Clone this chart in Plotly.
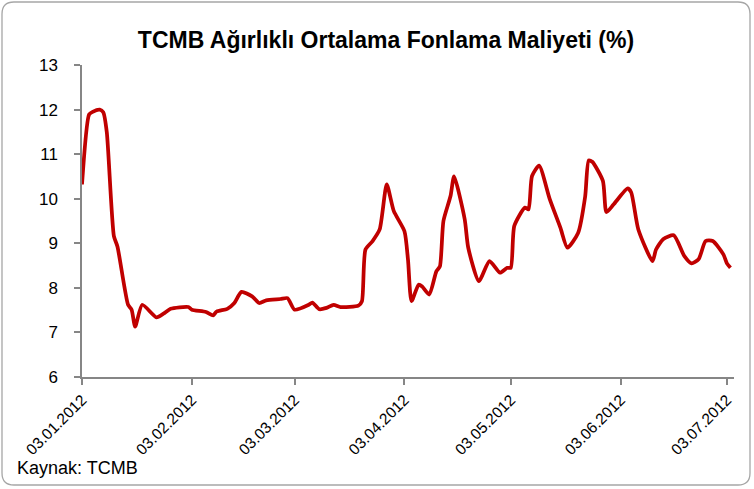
import plotly.graph_objects as go

# ---- data ----
dates = [
    "2012-01-03", "2012-01-05", "2012-01-06", "2012-01-08", "2012-01-09", "2012-01-10",
    "2012-01-12", "2012-01-13", "2012-01-16", "2012-01-17", "2012-01-18", "2012-01-20",
    "2012-01-24", "2012-01-26", "2012-01-28", "2012-02-02", "2012-02-03", "2012-02-07",
    "2012-02-09", "2012-02-10", "2012-02-13", "2012-02-15", "2012-02-17", "2012-02-20",
    "2012-02-22", "2012-02-24", "2012-02-28", "2012-03-01", "2012-03-03", "2012-03-07",
    "2012-03-08", "2012-03-10", "2012-03-12", "2012-03-14", "2012-03-16", "2012-03-21",
    "2012-03-22", "2012-03-23", "2012-03-25", "2012-03-27", "2012-03-29", "2012-03-31",
    "2012-04-03", "2012-04-04", "2012-04-05", "2012-04-07", "2012-04-08", "2012-04-10",
    "2012-04-12", "2012-04-13", "2012-04-14", "2012-04-16", "2012-04-17", "2012-04-20",
    "2012-04-21", "2012-04-24", "2012-04-27", "2012-04-30", "2012-05-02", "2012-05-03",
    "2012-05-04", "2012-05-07", "2012-05-08", "2012-05-09", "2012-05-11", "2012-05-14",
    "2012-05-17", "2012-05-19", "2012-05-22", "2012-05-24", "2012-05-25", "2012-05-26",
    "2012-05-29", "2012-05-30", "2012-06-01", "2012-06-05", "2012-06-06", "2012-06-08",
    "2012-06-12", "2012-06-13", "2012-06-15", "2012-06-18", "2012-06-21", "2012-06-23",
    "2012-06-25", "2012-06-27", "2012-06-29", "2012-07-02", "2012-07-03", "2012-07-04",
]
values = [
    10.32, 11.89, 11.95, 12.00, 11.94, 11.49,
    9.16, 8.93, 7.62, 7.51, 7.13, 7.62,
    7.34, 7.42, 7.53, 7.57, 7.51, 7.46,
    7.38, 7.47, 7.53, 7.66, 7.91, 7.81,
    7.66, 7.72, 7.75, 7.77, 7.51, 7.62,
    7.67, 7.52, 7.55, 7.62, 7.57, 7.60,
    7.70, 8.86, 9.05, 9.31, 10.32, 9.72,
    9.27, 8.63, 7.70, 8.07, 8.03, 7.85,
    8.37, 8.48, 9.50, 10.06, 10.50, 9.54,
    8.90, 8.15, 8.60, 8.34, 8.45, 8.45,
    9.39, 9.80, 9.76, 10.51, 10.74, 9.99,
    9.35, 8.90, 9.23, 10.05, 10.86, 10.83,
    10.40, 9.70, 9.87, 10.23, 10.14, 9.31,
    8.60, 8.86, 9.09, 9.18, 8.71, 8.55,
    8.64, 9.05, 9.05, 8.75, 8.55, 8.45,
]
tick_dates = ["2012-01-03", "2012-02-03", "2012-03-03", "2012-04-03",
              "2012-05-03", "2012-06-03", "2012-07-03"]
tick_labels = ["03.01.2012", "03.02.2012", "03.03.2012", "03.04.2012",
               "03.05.2012", "03.06.2012", "03.07.2012"]
y_ticks = [6, 7, 8, 9, 10, 11, 12, 13]

title_text = "TCMB Ağırlıklı Ortalama Fonlama Maliyeti (%)"
source_text = "Kaynak: TCMB"

# ---- layout geometry (pixels) ----
W, H = 754, 489
L, R, T, B = 82, 734, 65, 377   # plot area edges in pixels

def px_x(px):
    return (px - L) / (R - L)

def px_y(py):
    return (B - py) / (B - T)

FONT = "Liberation Sans, Arial, sans-serif"
AXIS_COLOR = "#868686"

fig = go.Figure()
fig.add_trace(go.Scatter(
    x=dates, y=values, mode="lines",
    line=dict(color="#C00000", width=3.75, shape="spline", smoothing=0.6),
    hoverinfo="skip", showlegend=False,
))

# rounded border around the whole chart
x0, x1, y0, y1, rr = 2, 750, 2, 485, 12
path = (
    f"M {px_x(x0 + rr)} {px_y(y0)} L {px_x(x1 - rr)} {px_y(y0)} "
    f"Q {px_x(x1)} {px_y(y0)} {px_x(x1)} {px_y(y0 + rr)} "
    f"L {px_x(x1)} {px_y(y1 - rr)} "
    f"Q {px_x(x1)} {px_y(y1)} {px_x(x1 - rr)} {px_y(y1)} "
    f"L {px_x(x0 + rr)} {px_y(y1)} "
    f"Q {px_x(x0)} {px_y(y1)} {px_x(x0)} {px_y(y1 - rr)} "
    f"L {px_x(x0)} {px_y(y0 + rr)} "
    f"Q {px_x(x0)} {px_y(y0)} {px_x(x0 + rr)} {px_y(y0)} Z"
)
fig.add_shape(type="path", path=path, xref="paper", yref="paper",
              line=dict(color="#A6A6A6", width=1.3), layer="below")

fig.add_annotation(text=source_text, xref="paper", yref="paper",
                   x=px_x(15), y=px_y(468), xanchor="left", yanchor="middle",
                   showarrow=False, font=dict(family=FONT, size=18, color="#000000"))

fig.update_layout(
    width=W, height=H,
    margin=dict(l=L, r=W - R, t=T, b=H - B, autoexpand=False),
    paper_bgcolor="white", plot_bgcolor="white",
    title=dict(text=f"<b>{title_text}</b>", x=386 / W, xanchor="center",
               xref="container", y=1 - 40 / H, yanchor="middle", yref="container",
               font=dict(family=FONT, size=23, color="#000000")),
    xaxis=dict(
        type="date", range=["2012-01-03", "2012-07-05"], automargin=False,
        tickvals=tick_dates, ticktext=tick_labels, tickangle=-45,
        showgrid=False, zeroline=False,
        showline=True, linecolor=AXIS_COLOR, linewidth=1.5,
        ticks="outside", ticklen=6, tickcolor=AXIS_COLOR, tickwidth=1.5,
        tickfont=dict(family=FONT, size=15.5, color="#000000"),
    ),
    yaxis=dict(
        range=[6, 13], tickvals=y_ticks, automargin=False,
        showgrid=False, zeroline=False,
        showline=True, linecolor=AXIS_COLOR, linewidth=1.5,
        ticks="outside", ticklen=6, tickcolor=AXIS_COLOR, tickwidth=1.5,
        tickfont=dict(family=FONT, size=17, color="#000000"),
        ticklabelstandoff=13,
    ),
)

fig.write_html(
    "out.html",
    config={"displayModeBar": False},
    post_script="document.body.style.margin='0px';document.body.style.padding='0px';",
)
